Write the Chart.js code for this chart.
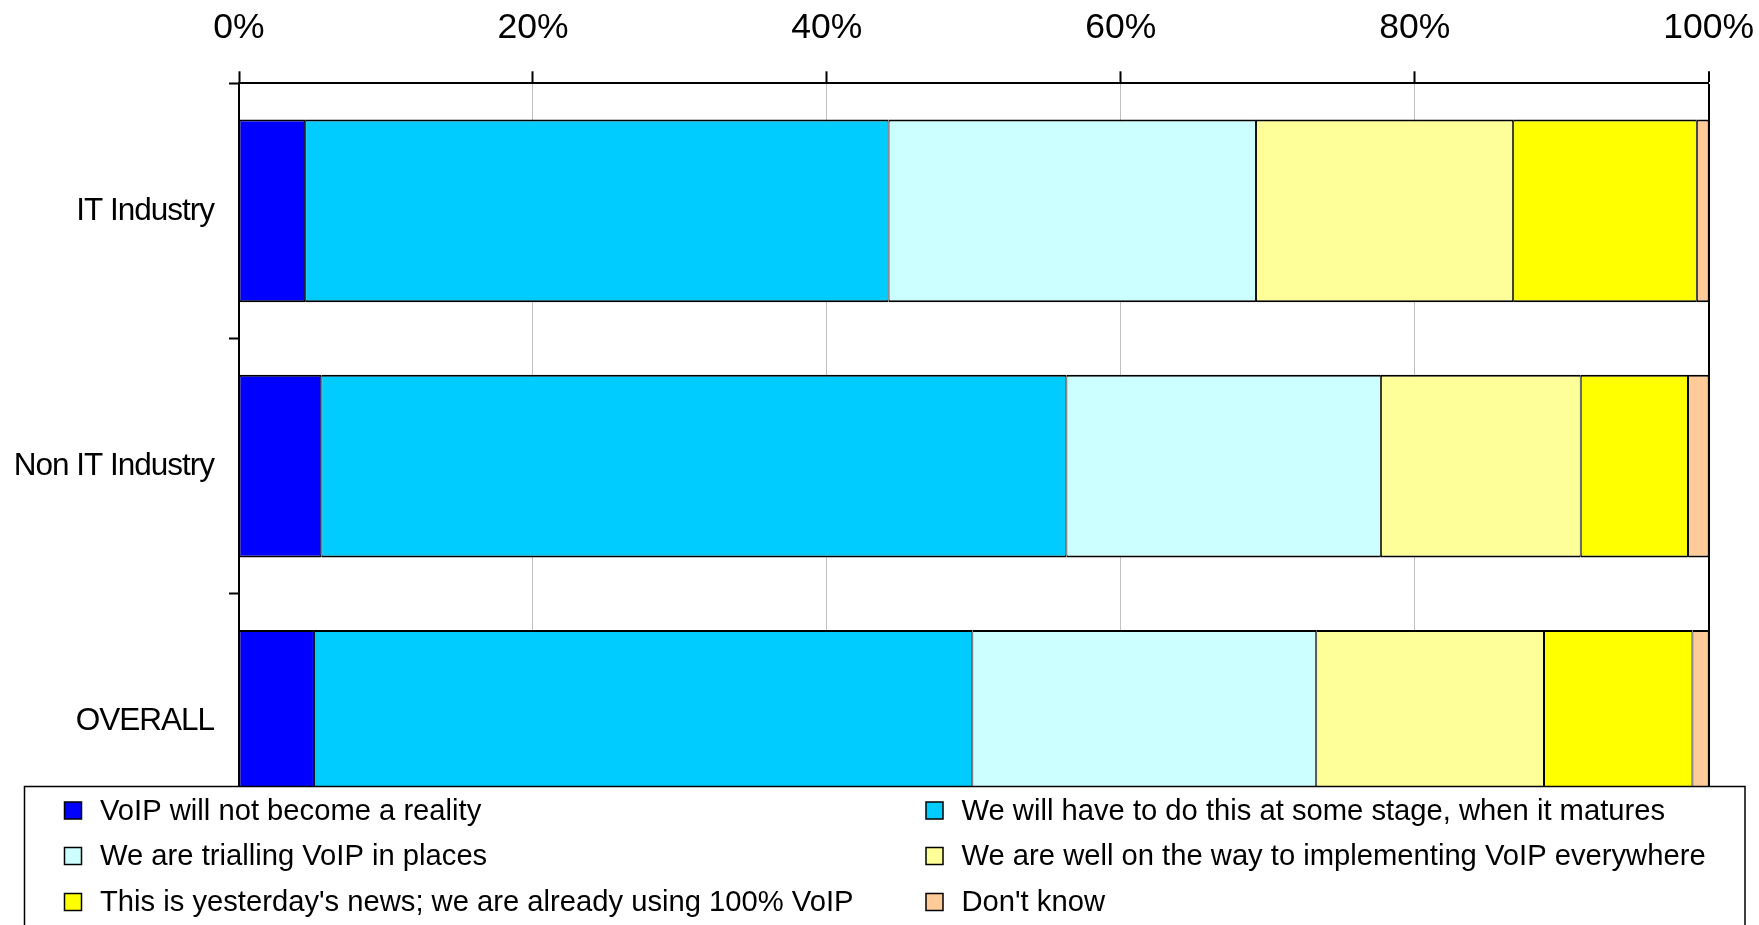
<!DOCTYPE html>
<html>
<head>
<meta charset="utf-8">
<script src="https://cdn.jsdelivr.net/npm/chart.js@4.4.1/dist/chart.umd.min.js"></script>
<style>
  html, body { margin: 0; padding: 0; background: #ffffff; }
  #wrap { position: relative; width: 1759px; height: 925px; overflow: hidden; }
  canvas { display: block; }
</style>
</head>
<body>
<div id="wrap"><canvas id="c" width="1759" height="925"></canvas></div>
<script>
// ---- data ----
const categories = ["IT Industry", "Non IT Industry", "OVERALL"];
const seriesNames = [
  "VoIP will not become a reality",
  "We will have to do this at some stage, when it matures",
  "We are trialling VoIP in places",
  "We are well on the way to implementing VoIP everywhere",
  "This is yesterday's news; we are already using 100% VoIP",
  "Don't know"
];
const notReality   = [4.5, 5.6, 5.1];
const willHaveTo   = [39.7, 50.7, 44.8];
const trialling    = [25.0, 21.4, 23.4];
const wellOnTheWay = [17.5, 13.6, 15.5];
const yesterdays   = [12.5, 7.3, 10.1];
const dontKnow     = [0.8, 1.4, 1.1];
const tickValues   = [0, 20, 40, 60, 80, 100];

const seriesValues = [notReality, willHaveTo, trialling, wellOnTheWay, yesterdays, dontKnow];
const seriesColors = ["#0000FF", "#00CCFF", "#CCFFFF", "#FFFF99", "#FFFF00", "#FFCC99"];

const FONT = '"Liberation Sans", Arial, sans-serif';

const datasets = seriesNames.map((name, i) => ({
  label: name,
  data: seriesValues[i],
  backgroundColor: seriesColors[i],
  borderColor: "#000000",
  borderWidth: { top: 2, bottom: 2, left: 1, right: 1 },
  borderSkipped: false,
  categoryPercentage: 1.0,
  barPercentage: 0.716
}));

// condensed category labels (tighter letter spacing as in the reference)
const tightYLabels = {
  id: "tightYLabels",
  afterLayout(chart) {
    const s = chart.scales.y;
    if (s && !s._tightWrapped) {
      const orig = s.drawLabels.bind(s);
      s.drawLabels = function (area) {
        const ctx = chart.ctx;
        ctx.save();
        try { ctx.letterSpacing = "-1px"; } catch (e) {}
        orig(area);
        ctx.restore();
      };
      s._tightWrapped = true;
    }
  }
};

// custom legend box drawn over the lower part of the plot (as in the reference)
const boxLegend = {
  id: "boxLegend",
  afterDraw(chart) {
    const ctx = chart.ctx;
    ctx.save();
    ctx.fillStyle = "#ffffff";
    ctx.fillRect(24.5, 786.5, 1720.5, 200);
    ctx.strokeStyle = "#000000";
    ctx.lineWidth = 1.5;
    ctx.strokeRect(24.5, 786.5, 1720.5, 200);
    const colX = [64.5, 926];
    const rowY = [810.5, 856, 902];
    ctx.font = "29.2px " + FONT;
    ctx.textBaseline = "middle";
    ctx.textAlign = "left";
    chart.data.datasets.forEach((ds, i) => {
      const col = i % 2, row = Math.floor(i / 2);
      const x = colX[col], y = rowY[row];
      ctx.fillStyle = ds.backgroundColor;
      ctx.fillRect(x, y - 8.5, 17, 17);
      ctx.lineWidth = 1.5;
      ctx.strokeStyle = "#000000";
      ctx.strokeRect(x, y - 8.5, 17, 17);
      ctx.fillStyle = "#000000";
      ctx.fillText(ds.label, x + 35.5, y + 1);
    });
    ctx.restore();
  }
};

new Chart(document.getElementById("c"), {
  type: "bar",
  data: { labels: categories, datasets },
  options: {
    indexAxis: "y",
    responsive: false,
    animation: false,
    layout: { padding: { left: 0, right: 50.4, top: 0, bottom: 76 } },
    plugins: {
      legend: { display: false },
      tooltip: { enabled: false }
    },
    scales: {
      x: {
        position: "top",
        stacked: true,
        min: 0,
        max: 100,
        afterBuildTicks: (scale) => { scale.ticks = tickValues.map(v => ({ value: v })); },
        afterFit: (scale) => {
          scale.height = 83.3;
          scale.paddingLeft = 0;
          scale.paddingRight = 0;
        },
        ticks: {
          color: "#000000",
          padding: 22,
          font: { family: FONT, size: 35.5 },
          callback: (v) => v + "%"
        },
        grid: {
          drawOnChartArea: true,
          drawTicks: true,
          tickLength: 12,
          tickColor: "#000000",
          tickWidth: 2,
          color: (c) => (c.tick && c.tick.value === 100) ? "#000000" : "#c0c0c0",
          lineWidth: (c) => (c.tick && c.tick.value === 100) ? 2 : 1
        },
        border: { display: true, color: "#000000", width: 2 }
      },
      y: {
        stacked: true,
        offset: true,
        afterFit: (scale) => { scale.width = 239; },
        ticks: {
          color: "#000000",
          padding: 15,
          font: { family: FONT, size: 31.5 }
        },
        grid: {
          offset: true,
          drawOnChartArea: false,
          drawTicks: true,
          tickLength: 10,
          tickColor: "#000000",
          tickWidth: 2
        },
        border: { display: true, color: "#000000", width: 2 }
      }
    }
  },
  plugins: [tightYLabels, boxLegend]
});
</script>
</body>
</html>
